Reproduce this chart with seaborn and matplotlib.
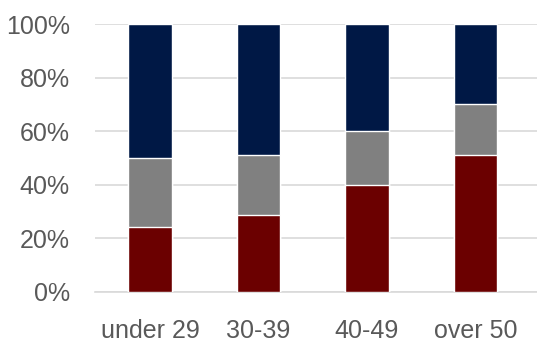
import matplotlib
matplotlib.use('Agg')
import matplotlib.pyplot as plt
import seaborn as sns
import pandas as pd
from matplotlib.ticker import PercentFormatter

# data (percent of each age group)
groups = ['under 29', '30-39', '40-49', 'over 50']
red_share = [24.2, 28.6, 40.0, 50.9]
gray_share = [25.8, 22.4, 20.1, 19.1]
navy_share = [50.0, 49.0, 39.9, 30.0]

df = pd.DataFrame({'group': groups, 'red': red_share, 'gray': gray_share, 'navy': navy_share})
df['red_top'] = df['red']
df['gray_top'] = df['red'] + df['gray']
df['navy_top'] = df['gray_top'] + df['navy']

sns.set_style('white')
plt.rcParams['font.family'] = ['Liberation Sans', 'DejaVu Sans']

fig = plt.figure(figsize=(5.37, 3.45), dpi=100)
ax = fig.add_axes([95 / 537, 1 - 291.5 / 345, 1 - 95 / 537, (291.5 - 24.3) / 345])

# stacked bars: draw cumulative heights from the top segment down
sns.barplot(data=df, x='group', y='navy_top', color='#001845', width=0.405, saturation=1, ax=ax, zorder=3)
sns.barplot(data=df, x='group', y='gray_top', color='#808080', width=0.405, saturation=1, ax=ax, zorder=3)
sns.barplot(data=df, x='group', y='red_top', color='#6b0000', width=0.405, saturation=1, ax=ax, zorder=3)

ax.set_ylim(0, 100)
ax.set_xlim(-0.507, 3.567)
ax.set_yticks([0, 20, 40, 60, 80, 100])
ax.yaxis.set_major_formatter(PercentFormatter(decimals=0))
ax.grid(axis='y', color='#d9d9d9', linewidth=1.2, zorder=0)
ax.set_xlabel('')
ax.set_ylabel('')
for s in ['top', 'right', 'left']:
    ax.spines[s].set_visible(False)
ax.spines['bottom'].set_color('#d9d9d9')
ax.spines['bottom'].set_linewidth(1.2)
ax.tick_params(axis='y', length=0, pad=18, labelsize=18, labelcolor='#595959')
ax.tick_params(axis='x', length=0, pad=20, labelsize=18, labelcolor='#595959')

fig.savefig('out.png', dpi=100)
